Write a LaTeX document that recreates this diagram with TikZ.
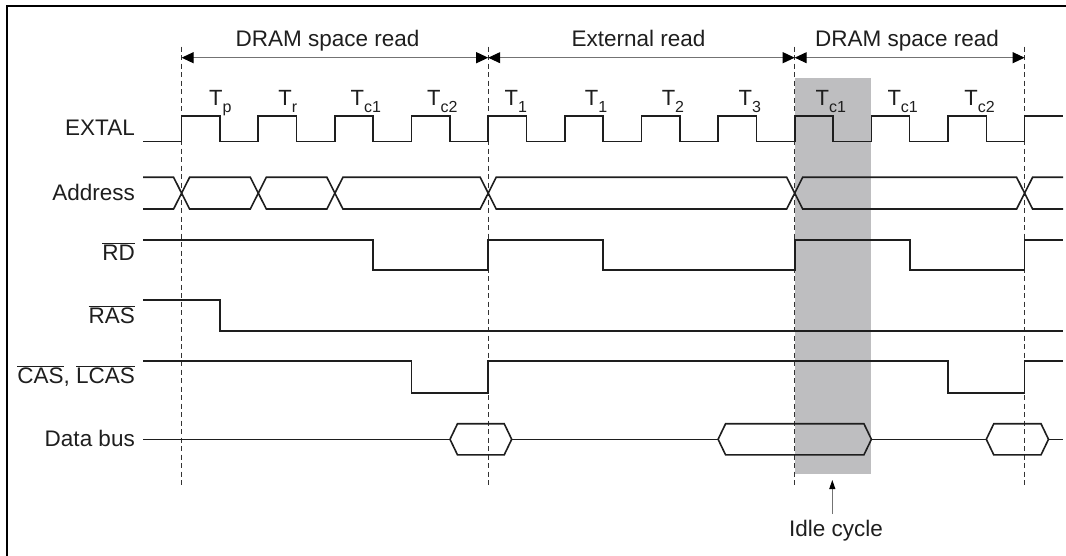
\documentclass[tikz,border=0pt]{standalone}
\usepackage{fontspec}
\setmainfont{Liberation Sans}
\usetikzlibrary{arrows.meta}
\definecolor{idle}{RGB}{190,190,192}
\definecolor{ink}{RGB}{30,30,30}
\newcommand\ovl[1]{$\overline{\hbox{#1}}$}
\newcommand\Tlab[1]{T\raisebox{-7pt}{\fontsize{16}{16}\selectfont #1}}
\begin{document}
\begin{tikzpicture}[x=1pt,y=-1pt,
  sig/.style={line width=1.6pt, ink, line join=miter},
  gridline/.style={line width=0.9pt, black!80, dash pattern=on 5pt off 3.5pt},
  span/.style={line width=1pt, black!55, {Triangle[length=12pt,width=11pt,color=black,fill=black]}-{Triangle[length=12pt,width=11pt,color=black,fill=black]}},
  lab/.style={anchor=base east, inner sep=0pt, text=ink, font=\fontsize{22.5}{27}\selectfont},
  head/.style={anchor=base, inner sep=0pt, text=ink, font=\fontsize{22.5}{27}\selectfont},
  tl/.style={anchor=base west, inner sep=0pt, text=ink, font=\fontsize{22}{24}\selectfont}]
\useasboundingbox (0,0) rectangle (1066,556);
% frame
\draw[line width=2pt, black] (6.7,556) -- (6.7,6) -- (1066,6);
% idle shading
\fill[idle] (794.7,78.4) rectangle (871.4,474.3);
% boundaries
\foreach \n/\x in {d0/181.6, d1/488.2, d2/794.7, d3/1024.6}{
  \coordinate (\n) at (\x,57.7);
  \draw[gridline] (\x,46.7) -- (\x,487.5);
}
\draw[span] (d0) -- (d1);
\draw[span] (d1) -- (d2);
\draw[span] (d2) -- (d3);
\node[head] (h1) at (327.5,46.7) {DRAM space read};
\node[head] (h2) at (638.6,46.7) {External read};
\node[head] (h3) at (907,46.7) {DRAM space read};
% T labels
\node[tl] (t1) at (209,106) {\Tlab{p}};
\node[tl] (t2) at (278.2,106) {\Tlab{r}};
\node[tl] (t3) at (350.5,106) {\Tlab{c1}};
\node[tl] (t4) at (427,106) {\Tlab{c2}};
\node[tl] (t5) at (504.5,106) {\Tlab{1}};
\node[tl] (t6) at (584.7,106) {\Tlab{1}};
\node[tl] (t7) at (661.6,106) {\Tlab{2}};
\node[tl] (t8) at (738.5,106) {\Tlab{3}};
\node[tl] (t9) at (815.5,106) {\Tlab{c1}};
\node[tl] (t10) at (887.3,106) {\Tlab{c1}};
\node[tl] (t11) at (964.2,106) {\Tlab{c2}};
% signal names
\node[lab] (n1) at (135,135.5) {EXTAL};
\node[lab] (n2) at (135,201) {Address};
\node[lab] (n3) at (135,260.5) {\ovl{RD}};
\node[lab] (n4) at (135,323.5) {\ovl{RAS}};
\node[lab] (n5) at (135,383.5) {\ovl{CAS}, \ovl{LCAS}};
\node[lab] (n6) at (135,446) {Data bus};
% EXTAL
\draw[sig] (143,141.7) -- (181.6,141.7)
  \foreach \k in {0,...,10}{ -- ++(0,-25.7) -- ++(38.32,0) -- ++(0,25.7) -- ++(38.32,0)}
  -- ++(0,-25.7) -- (1063,116);
% Address
\draw[sig] (143,177.3) -- (173.6,177.3) -- (189.6,209) -- (250.3,209) -- (266.3,177.3) -- (326.9,177.3) -- (342.9,209) -- (480.2,209) -- (496.2,177.3) -- (786.7,177.3) -- (802.7,209) -- (1016.6,209) -- (1032.6,177.3) -- (1063,177.3);
\draw[sig] (143,209) -- (173.6,209) -- (189.6,177.3) -- (250.3,177.3) -- (266.3,209) -- (326.9,209) -- (342.9,177.3) -- (480.2,177.3) -- (496.2,209) -- (786.7,209) -- (802.7,177.3) -- (1016.6,177.3) -- (1032.6,209) -- (1063,209);
% RD
\draw[sig] (143,240) -- (373.2,240) -- (373.2,270) -- (488.2,270) -- (488.2,240) -- (603.1,240) -- (603.1,270) -- (794.7,270) -- (794.7,240) -- (909.7,240) -- (909.7,270) -- (1024.6,270) -- (1024.6,240) -- (1063,240);
% RAS
\draw[sig] (143,299.7) -- (219.9,299.7) -- (219.9,330.7) -- (1063,330.7);
% CAS
\draw[sig] (143,361) -- (411.5,361) -- (411.5,392.7) -- (488.2,392.7) -- (488.2,361) -- (948,361) -- (948,392.7) -- (1024.6,392.7) -- (1024.6,361) -- (1063,361);
% Data bus
\draw[sig] (143,439.3) -- (450,439.3);
\draw[sig] (450,439.3) -- (457.5,423.7) -- (504.2,423.7) -- (511.7,439.3) -- (504.2,454.9) -- (457.5,454.9) -- cycle;
\draw[sig] (511.7,439.3) -- (718.1,439.3);
\draw[sig] (718.1,439.3) -- (725.6,423.7) -- (863.9,423.7) -- (871.4,439.3) -- (863.9,454.9) -- (725.6,454.9) -- cycle;
\draw[sig] (871.4,439.3) -- (986.3,439.3);
\draw[sig] (986.3,439.3) -- (993.8,423.7) -- (1041,423.7) -- (1048.5,439.3) -- (1041,454.9) -- (993.8,454.9) -- cycle;
\draw[sig] (1048.5,439.3) -- (1063,439.3);
% idle cycle
\node[head] (idle) at (836,536) {Idle cycle};
\coordinate (idletail) at (832.3,514);
\coordinate (idletip) at (832.3,480);
\draw[line width=1pt, black!55, -{Triangle[length=9pt,width=6pt,color=black,fill=black]}] (idletail) -- (idletip);
\end{tikzpicture}
\end{document}
